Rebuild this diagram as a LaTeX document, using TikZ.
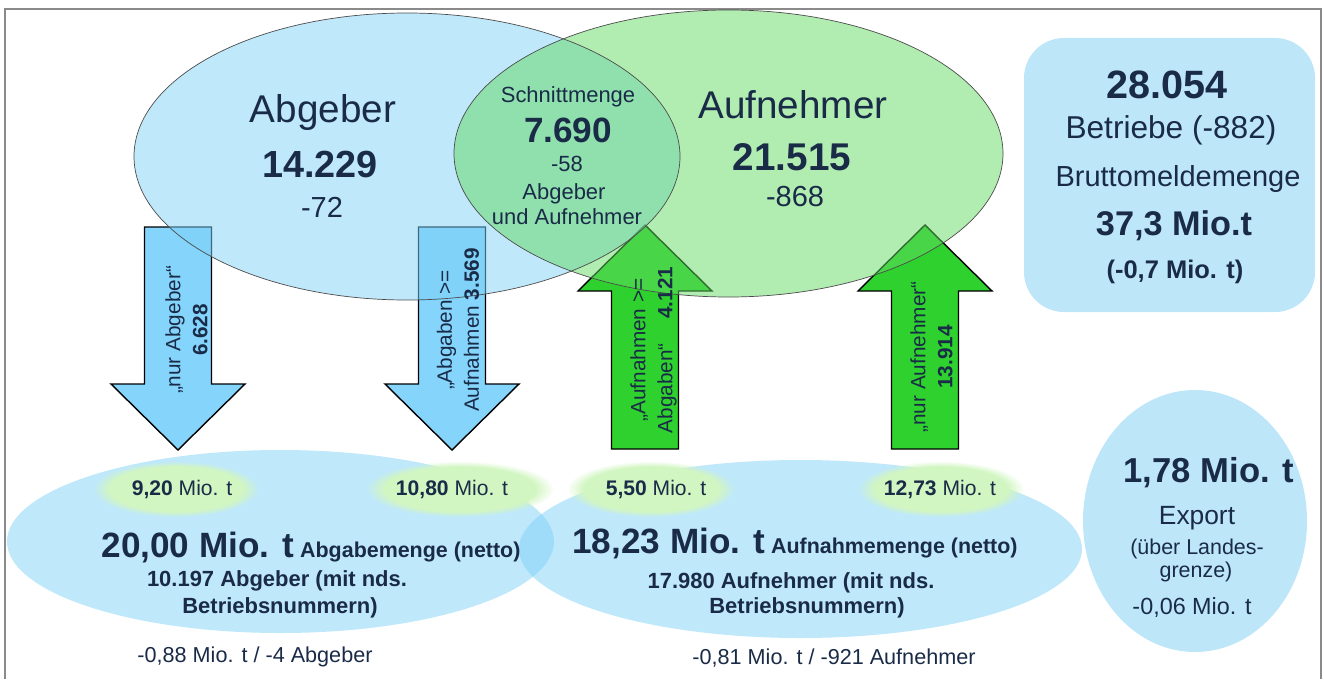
\documentclass[tikz,border=0pt]{standalone}
\usepackage{fontspec}
\setmainfont{Liberation Sans}
\usetikzlibrary{fadings}
\definecolor{ink}{HTML}{1A2B47}
\definecolor{setblue}{HTML}{7FD1F7}
\definecolor{setgreen}{HTML}{63D963}
\definecolor{boxblue}{HTML}{BDE6F9}
\definecolor{arrowblue}{HTML}{84D4FB}
\definecolor{arrowgreen}{HTML}{2ED12E}
\definecolor{glowgreen}{HTML}{D2F6C2}
\definecolor{framegray}{HTML}{8A8A8A}
\begin{document}
\begin{tikzpicture}[x=0.02cm, y=-0.02cm,
    txt/.style={text=ink, inner sep=0pt, anchor=base},
    reg/.style={font=\fontsize{#1}{#1}\selectfont},
    bld/.style={font=\fontsize{#1}{#1}\selectfont\bfseries},
    lbl/.style={text=ink, inner sep=0pt, rotate=90, align=center,
      font=\fontsize{11.8}{15.3}\selectfont},
    outline/.style={draw=black!70, line width=0.4pt},
    downarrow/.style={draw=black, line width=0.8pt, fill=arrowblue},
    uparrow/.style={draw=black, line width=0.8pt, fill=arrowgreen},
    glow/.style={fill=glowgreen, path fading=circle with fuzzy edge 20 percent}
  ]
  \useasboundingbox (0,0) rectangle (1324,679);
  \draw[framegray, line width=1.1pt] (5,679) -- (5,9) -- (1321,9) -- (1321,679);

  % net amounts below
  \fill[setblue, fill opacity=0.5] (280.5,541.5) ellipse [x radius=273.5, y radius=91.5];
  \fill[setblue, fill opacity=0.5] (800.5,549) ellipse [x radius=281.5, y radius=89];
  \foreach \x/\r in {176/75, 460/86, 651/76, 941/75}
    \fill[glow] (\x,489) ellipse [x radius=\r+8, y radius=28];

  % flows
  \foreach \x in {178,452}
    \draw[downarrow] (\x,450) -- ++(67,-66) -- ++(-33.5,0) -- ++(0,-157) -- ++(-67,0)
      -- ++(0,157) -- ++(-33.5,0) -- cycle;
  \foreach \x in {645,925}
    \draw[uparrow] (\x,225) -- ++(67,66) -- ++(-33.5,0) -- ++(0,158) -- ++(-67,0)
      -- ++(0,-158) -- ++(-33.5,0) -- cycle;

  % the two sets
  \fill[setblue, fill opacity=0.5] (407,156.5) ellipse [x radius=273, y radius=143.5];
  \fill[setgreen, fill opacity=0.5] (728.5,153.5) ellipse [x radius=274.5, y radius=143.5];
  \draw[outline] (407,156.5) ellipse [x radius=273, y radius=143.5];
  \draw[outline] (728.5,153.5) ellipse [x radius=274.5, y radius=143.5];

  % totals and export
  \fill[boxblue, rounded corners=0.8cm] (1024,38) rectangle (1315,312);
  \fill[boxblue] (1195,521) ellipse [x radius=112, y radius=131];

  \node[txt, reg=22] (abgname) at (323,122) {Abgeber};
  \node[txt, bld=21.5] (abgnum) at (320,177) {14.229};
  \node[txt, reg=16.5] (abgdiff) at (322,217) {-72};
  \node[txt, reg=12.5] (cutname) at (568,103) {Schnittmenge};
  \node[txt, bld=20] (cutnum) at (568,142) {7.690};
  \node[txt, reg=12.5] (cutdiff) at (567,171) {-58};
  \node[txt, reg=12.5] (cutsub) at (564,199) {Abgeber};
  \node[txt, reg=12.5] (cutsubb) at (567,224) {und Aufnehmer};
  \node[txt, reg=22] (aufname) at (793,118) {Aufnehmer};
  \node[txt, bld=22] (aufnum) at (792,170) {21.515};
  \node[txt, reg=16.5] (aufdiff) at (795,206) {-868};

  \node[txt, bld=22.5] (total) at (1167,98) {28.054};
  \node[txt, reg=18] (totalsub) at (1171,138) {Betriebe (-882)};
  \node[txt, reg=16.5] (grossname) at (1178,186) {Bruttomeldemenge};
  \node[txt, bld=19.5] (gross) at (1174,235) {37,3 Mio.t};
  \node[txt, bld=14.5] (grossdiff) at (1175,278) {(-0,7 Mio. t)};

  \node[lbl] (onlyabg) at (186.5,330) {„nur Abgeber“\\\textbf{6.628}};
  \node[lbl] (abgmore) at (458,330) {„Abgaben >=\\Aufnahmen \textbf{3.569}};
  \node[lbl] (aufmore) at (653.5,350) {„Aufnahmen >=\\Abgaben“\hspace{1.2em}\textbf{4.121}};
  \node[lbl] (onlyauf) at (931.5,357) {„nur Aufnehmer“\\\textbf{13.914}};

  \node[txt, reg=12] (flowa) at (182,495) {\textbf{9,20} Mio. t};
  \node[txt, reg=12] (flowb) at (452,495) {\textbf{10,80} Mio. t};
  \node[txt, reg=12] (flowc) at (656,495) {\textbf{5,50} Mio. t};
  \node[txt, reg=12] (flowd) at (940,495) {\textbf{12,73} Mio. t};

  \node[txt, bld=12.2] (abgamount) at (311,557)
    {{\fontsize{20}{20}\selectfont 20,00 Mio. t} Abgabemenge (netto)};
  \node[txt, bld=12.5] (abgcount) at (277,586) {10.197 Abgeber (mit nds.};
  \node[txt, bld=12.5] (abgcountb) at (280,613) {Betriebsnummern)};
  \node[txt, reg=12.3] (abgchange) at (255,662) {-0,88 Mio. t / -4 Abgeber};

  \node[txt, bld=12.2] (aufamount) at (795,553)
    {{\fontsize{20}{20}\selectfont 18,23 Mio. t} Aufnahmemenge (netto)};
  \node[txt, bld=12.5] (aufcount) at (791,588) {17.980 Aufnehmer (mit nds.};
  \node[txt, bld=12.5] (aufcountb) at (807,613) {Betriebsnummern)};
  \node[txt, reg=12.3] (aufchange) at (834,664) {-0,81 Mio. t / -921 Aufnehmer};

  \node[txt, bld=19.7] (export) at (1209,482) {1,78 Mio. t};
  \node[txt, reg=15] (exportname) at (1197,524) {Export};
  \node[txt, reg=12.2] (exportsub) at (1197,554) {(über Landes-};
  \node[txt, reg=12.2] (exportsubb) at (1196,577) {grenze)};
  \node[txt, reg=13.3] (exportdiff) at (1192,614) {-0,06 Mio. t};
\end{tikzpicture}
\end{document}
